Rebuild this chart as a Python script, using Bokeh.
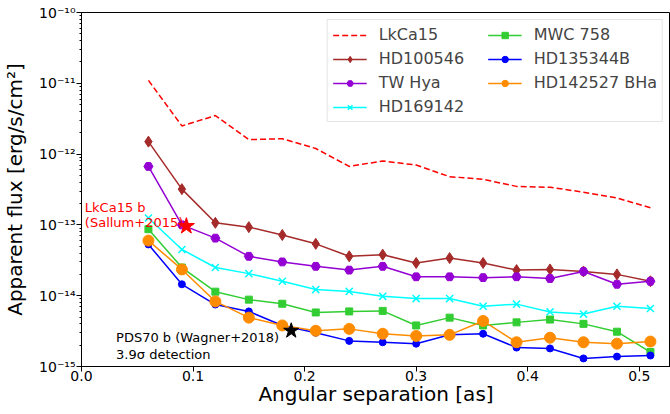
from bokeh.plotting import figure
from bokeh.models import (FixedTicker, CustomJSTickFormatter, NumeralTickFormatter,
                          Legend, LegendItem)
from bokeh.core.properties import value
from bokeh.embed import file_html
from bokeh.resources import INLINE

# ---------------- data ----------------
sep = [0.06, 0.09, 0.12, 0.15, 0.18, 0.21, 0.24, 0.27, 0.30, 0.33, 0.36, 0.39, 0.42, 0.45, 0.48, 0.51]

lkca15 = [1.1e-11, 2.5e-12, 3.5e-12, 1.6e-12, 1.65e-12, 1.2e-12, 6.7e-13, 8.0e-13, 7.0e-13,
          4.8e-13, 4.4e-13, 3.5e-13, 3.4e-13, 2.9e-13, 2.4e-13, 1.75e-13]
hd100546 = [1.5e-12, 3.2e-13, 1.07e-13, 9.3e-14, 7.2e-14, 5.4e-14, 3.6e-14, 3.8e-14, 2.9e-14,
            3.4e-14, 2.9e-14, 2.3e-14, 2.35e-14, 2.2e-14, 2.0e-14, 1.6e-14]
twhya = [6.7e-13, 1.0e-13, 6.5e-14, 3.6e-14, 3.0e-14, 2.6e-14, 2.3e-14, 2.6e-14, 1.85e-14,
         1.85e-14, 1.8e-14, 1.85e-14, 1.75e-14, 2.2e-14, 1.45e-14, 1.6e-14]
hd169142 = [1.25e-13, 4.5e-14, 2.5e-14, 2.05e-14, 1.6e-14, 1.22e-14, 1.15e-14, 9.8e-15, 9.1e-15,
            9.1e-15, 7.1e-15, 7.6e-15, 5.9e-15, 5.5e-15, 7.1e-15, 6.6e-15]
mwc758 = [8.7e-14, 2.5e-14, 1.14e-14, 8.8e-15, 7.7e-15, 5.8e-15, 6.0e-15, 6.1e-15, 3.8e-15,
          4.9e-15, 3.8e-15, 4.2e-15, 4.6e-15, 4.0e-15, 3.1e-15, 1.6e-15]
hd135344b = [5.3e-14, 1.45e-14, 7.5e-15, 6.0e-15, 3.8e-15, 3.0e-15, 2.3e-15, 2.2e-15, 2.1e-15,
             2.8e-15, 2.9e-15, 1.85e-15, 1.8e-15, 1.3e-15, 1.38e-15, 1.43e-15]
hd142527 = [6.0e-14, 2.35e-14, 8.3e-15, 4.9e-15, 3.8e-15, 3.2e-15, 3.4e-15, 2.9e-15, 2.7e-15,
            2.8e-15, 4.4e-15, 2.2e-15, 2.55e-15, 2.2e-15, 2.1e-15, 2.25e-15]

series_names = ["LkCa15", "HD100546", "TW Hya", "HD169142", "MWC 758", "HD135344B", "HD142527 BHa"]
series_values = [lkca15, hd100546, twhya, hd169142, mwc758, hd135344b, hd142527]

planet_sep = [0.094, 0.188]
planet_flux = [9.6e-14, 3.2e-15]

annot_x = [0.003, 0.003, 0.031, 0.031]
annot_y = [1.78e-13, 1.08e-13, 2.57e-15, 1.5e-15]
annot_text = ["LkCa15 b", "(Sallum+2015)", "PDS70 b (Wagner+2018)", "3.9σ detection"]
annot_color = ["red", "red", "black", "black"]

x_ticks = [0.0, 0.1, 0.2, 0.3, 0.4, 0.5]
y_ticks = [1e-15, 1e-14, 1e-13, 1e-12, 1e-11, 1e-10]

# ---------------- styles ----------------
styles = {
    "LkCa15": dict(color="red", marker=None, size=0, dash="6 3"),
    "HD100546": dict(color="brown", marker="diamond", size=11, dash="solid"),
    "TW Hya": dict(color="darkviolet", marker="hex", size=9, dash="solid"),
    "HD169142": dict(color="cyan", marker="x", size=10, dash="solid"),
    "MWC 758": dict(color="limegreen", marker="square", size=7, dash="solid"),
    "HD135344B": dict(color="blue", marker="circle", size=7, dash="solid"),
    "HD142527 BHa": dict(color="darkorange", marker="circle", size=11, dash="solid"),
}

FONT = "DejaVu Sans"

p = figure(width=670, height=414, x_range=(0, 0.528), y_range=(1e-15, 1e-10),
           y_axis_type="log", output_backend="svg", toolbar_location=None,
           min_border_left=80, min_border_top=12, min_border_right=0, min_border_bottom=48)

p.xgrid.visible = False
p.ygrid.visible = False
p.outline_line_color = "black"
p.outline_line_width = 1
p.background_fill_color = "white"
p.border_fill_color = "white"

items = []
for name, vals in zip(series_names, series_values):
    st = styles[name]
    rs = []
    r = p.line(sep, vals, line_color=st["color"], line_width=1.5, line_dash=st["dash"])
    rs.append(r)
    if st["marker"]:
        lw = 1.5 if st["marker"] == "x" else 1
        s = p.scatter(sep, vals, marker=st["marker"], size=st["size"],
                      fill_color=st["color"], line_color=st["color"], line_width=lw)
        rs.append(s)
    items.append(LegendItem(label=name, renderers=rs))

p.scatter(planet_sep[:1], planet_flux[:1], marker="star", size=17, fill_color="red", line_color="red")
p.scatter(planet_sep[1:], planet_flux[1:], marker="star", size=16, fill_color="black", line_color="black")

p.text(annot_x, annot_y, text=annot_text, text_color=annot_color, text_font=value(FONT),
       text_font_size="13px", text_align="left", text_baseline="middle")

legend = Legend(items=items, location="top_right", ncols=2, orientation="vertical")
legend.nrows = 4
legend.label_text_font = FONT
legend.label_text_font_size = "16px"
legend.glyph_width = 34
legend.glyph_height = 16
legend.label_height = 18
legend.label_width = 104
legend.label_standoff = 12
legend.spacing = 5
legend.padding = 5
legend.margin = 7
legend.border_line_color = "#cccccc"
legend.border_line_width = 1
legend.background_fill_alpha = 0.8
p.add_layout(legend)

# axes
p.xaxis.ticker = FixedTicker(ticks=x_ticks)
p.xaxis.formatter = NumeralTickFormatter(format="0.0")
minor = []
for t in y_ticks[:-1]:
    for k in range(2, 10):
        minor.append(k * t)
p.yaxis.ticker = FixedTicker(ticks=y_ticks, minor_ticks=minor)
p.yaxis.formatter = CustomJSTickFormatter(code="""
const e = Math.round(Math.log10(tick));
const sup = {'-':'\u207b','0':'\u2070','1':'\u00b9','2':'\u00b2','3':'\u00b3','4':'\u2074','5':'\u2075','6':'\u2076','7':'\u2077','8':'\u2078','9':'\u2079'};
return '10' + String(e).split('').map(c => sup[c]).join('');
""")
p.xaxis.axis_label = "Angular separation [as]"
p.yaxis.axis_label = "Apparent flux [erg/s/cm²]"
for ax in (p.xaxis, p.yaxis):
    ax.axis_label_text_font = FONT
    ax.axis_label_text_font_size = "20px"
    ax.axis_label_text_font_style = "normal"
    ax.axis_label_text_color = "black"
    ax.major_label_text_font = FONT
    ax.major_label_text_font_size = "14px"
    ax.major_label_text_color = "black"
    ax.axis_line_color = "black"
    ax.major_tick_line_color = "black"
    ax.minor_tick_line_color = "black"
    ax.major_tick_out = 5
    ax.major_tick_in = 0
    ax.minor_tick_out = 2
    ax.minor_tick_in = 0
p.xaxis.minor_tick_line_color = None
p.xaxis.major_label_standoff = -1
p.xaxis.axis_label_standoff = -2
p.yaxis.major_label_standoff = 1
p.yaxis.axis_label_standoff = 9

open("out.html", "w").write(file_html(p, INLINE))
